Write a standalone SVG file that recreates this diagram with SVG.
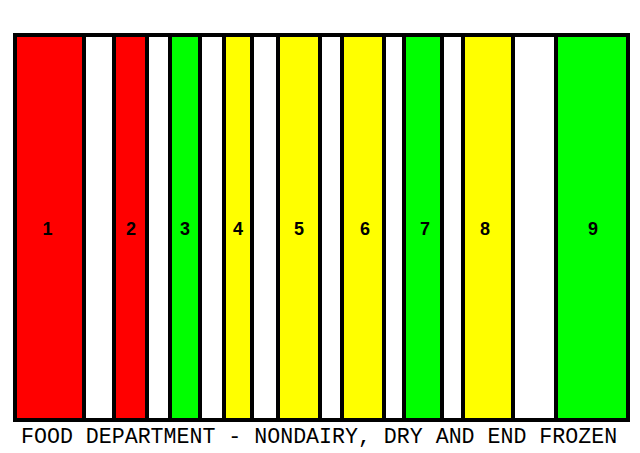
<svg xmlns="http://www.w3.org/2000/svg" width="640" height="453" viewBox="0 0 640 453">
<style>
.bar{stroke:#000;stroke-width:4}
.r{fill:#FF0000}.y{fill:#FFFF00}.g{fill:#00FF00}
.num{font-family:"Liberation Sans",Arial,sans-serif;font-weight:bold;font-size:18px;text-anchor:middle;fill:#000}
.title{font-family:"Liberation Mono","Courier New",monospace;font-size:21.6px;fill:#000}
</style>
<rect width="640" height="453" fill="#fff"/>
<g id="bar1"><rect class="bar r" x="15" y="35" width="69" height="385"/><text class="num" x="47.5" y="235">1</text></g>
<g id="bar2"><rect class="bar r" x="114" y="35" width="33" height="385"/><text class="num" x="131" y="235">2</text></g>
<g id="bar3"><rect class="bar g" x="170" y="35" width="30" height="385"/><text class="num" x="185" y="235">3</text></g>
<g id="bar4"><rect class="bar y" x="224" y="35" width="28" height="385"/><text class="num" x="238" y="235">4</text></g>
<g id="bar5"><rect class="bar y" x="278" y="35" width="42" height="385"/><text class="num" x="299" y="235">5</text></g>
<g id="bar6"><rect class="bar y" x="342" y="35" width="42" height="385"/><text class="num" x="365" y="235">6</text></g>
<g id="bar7"><rect class="bar g" x="404" y="35" width="38" height="385"/><text class="num" x="425" y="235">7</text></g>
<g id="bar8"><rect class="bar y" x="463" y="35" width="50" height="385"/><text class="num" x="485" y="235">8</text></g>
<g id="bar9"><rect class="bar g" x="556" y="35" width="72" height="385"/><text class="num" x="593" y="235">9</text></g>
<g id="frame"><rect x="15" y="35" width="613" height="385" fill="none" stroke="#000" stroke-width="4"/></g>
<g id="connectors"></g>
<text class="title" x="21" y="443">FOOD DEPARTMENT - NONDAIRY, DRY AND END FROZEN</text>
</svg>
